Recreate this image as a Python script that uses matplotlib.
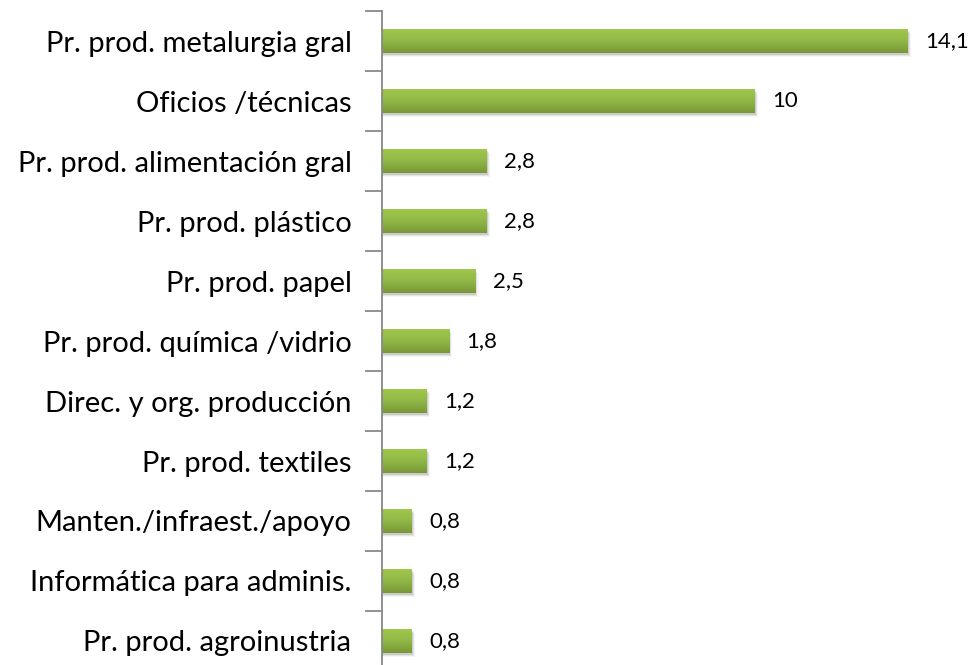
import numpy as np
import matplotlib
matplotlib.use("Agg")
import matplotlib.pyplot as plt
from matplotlib.colors import LinearSegmentedColormap

categories = [
    "Pr. prod. metalurgia gral",
    "Oficios /técnicas",
    "Pr. prod. alimentación gral",
    "Pr. prod. plástico",
    "Pr. prod. papel",
    "Pr. prod. química /vidrio",
    "Direc. y org. producción",
    "Pr. prod. textiles",
    "Manten./infraest./apoyo",
    "Informática para adminis.",
    "Pr. prod. agroinustria",
]
values = [14.1, 10, 2.8, 2.8, 2.5, 1.8, 1.2, 1.2, 0.8, 0.8, 0.8]
value_labels = ["14,1", "10", "2,8", "2,8", "2,5", "1,8", "1,2", "1,2", "0,8", "0,8", "0,8"]

W, H = 973, 665
fig = plt.figure(figsize=(W / 100, H / 100), dpi=100)
left, top = 382, 11
n = len(categories)
axes_h = 60 * n
ax = fig.add_axes([left / W, (H - top - axes_h) / H, (W - left) / W, axes_h / H])

xmax = (W - left) / 37.3
grad = LinearSegmentedColormap.from_list("g", ["#a0c84d", "#8fb745", "#789838"])
gimg = np.linspace(0, 1, 64).reshape(-1, 1)
bar_h = 0.4

for i, v in enumerate(values):
    # soft drop shadow under each bar
    for k, a in enumerate([0.10, 0.07, 0.04]):
        ax.add_patch(plt.Rectangle((0, i - bar_h / 2 + 0.03 + 0.015 * k), v + 0.03 * (k + 1), bar_h,
                                   facecolor="#000000", alpha=a, edgecolor="none", zorder=1))
    rect = plt.Rectangle((0, i - bar_h / 2), v, bar_h, facecolor="none", edgecolor="none", zorder=3)
    ax.add_patch(rect)
    im = ax.imshow(gimg, cmap=grad, aspect="auto", extent=(0, v, i + bar_h / 2, i - bar_h / 2),
                   zorder=2, interpolation="bilinear")
    im.set_clip_path(rect)
    ax.annotate(value_labels[i], xy=(v, i), xytext=(12.5, 0), textcoords="offset points",
                ha="left", va="center", fontsize=16, family="Lato", color="#000000")

ax.set_xlim(0, xmax)
ax.set_ylim(n - 0.5, -0.5)

ax.set_yticks(np.arange(n))
ax.set_yticklabels(categories, fontsize=21, family="Lato")
ax.set_yticks(np.arange(n + 1) - 0.5, minor=True)
ax.tick_params(axis="y", which="major", length=0, pad=22)
ax.tick_params(axis="y", which="minor", length=12, width=1.3, color="#888888", direction="out")
ax.set_xticks([])
for s in ["top", "right", "bottom"]:
    ax.spines[s].set_visible(False)
ax.spines["left"].set_color("#888888")
ax.spines["left"].set_linewidth(1.3)

fig.savefig("out.png", dpi=100)
